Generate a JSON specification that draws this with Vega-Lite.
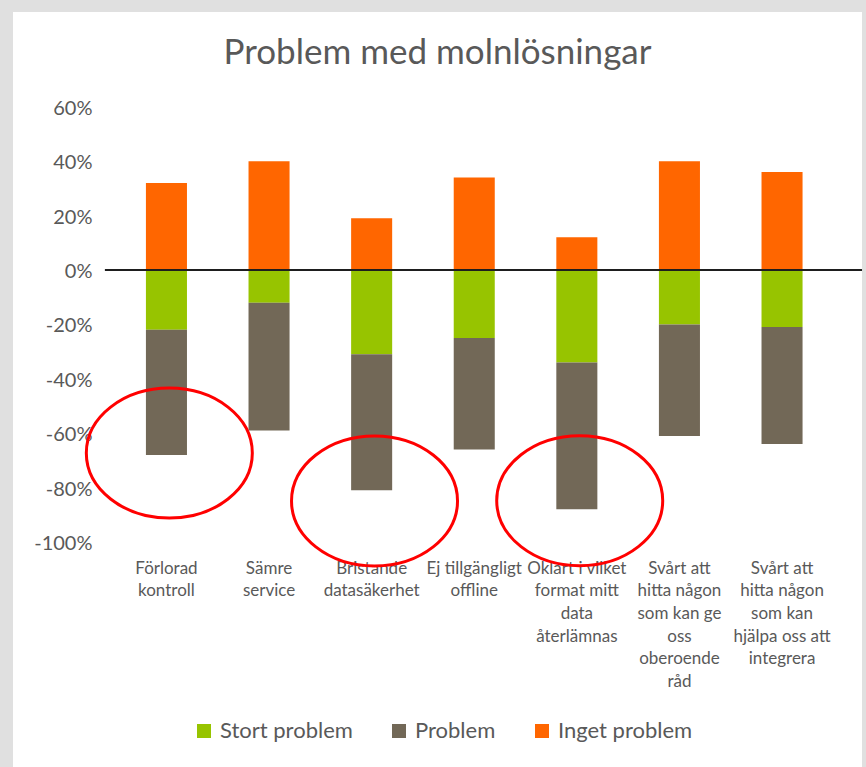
{
  "$schema": "https://vega.github.io/schema/vega-lite/v6.json",
  "autosize": {"type": "none"},
  "width": 849,
  "height": 755,
  "padding": {"left": 13, "top": 12, "right": 4, "bottom": 0},
  "background": "#E0E0E0",
  "title": {
    "text": "Problem med molnlösningar",
    "font": "Lato",
    "fontSize": 35,
    "fontWeight": "normal",
    "color": "#595959",
    "anchor": "middle",
    "baseline": "alphabetic",
    "offset": -87
  },
  "datasets": {
    "responses": [
      {"category": "Förlorad kontroll", "series": "Stort problem", "value": -0.22},
      {"category": "Förlorad kontroll", "series": "Problem", "value": -0.46},
      {"category": "Förlorad kontroll", "series": "Inget problem", "value": 0.32},
      {"category": "Sämre service", "series": "Stort problem", "value": -0.12},
      {"category": "Sämre service", "series": "Problem", "value": -0.47},
      {"category": "Sämre service", "series": "Inget problem", "value": 0.40},
      {"category": "Bristande datasäkerhet", "series": "Stort problem", "value": -0.31},
      {"category": "Bristande datasäkerhet", "series": "Problem", "value": -0.50},
      {"category": "Bristande datasäkerhet", "series": "Inget problem", "value": 0.19},
      {"category": "Ej tillgängligt offline", "series": "Stort problem", "value": -0.25},
      {"category": "Ej tillgängligt offline", "series": "Problem", "value": -0.41},
      {"category": "Ej tillgängligt offline", "series": "Inget problem", "value": 0.34},
      {"category": "Oklart i vilket format mitt data återlämnas", "series": "Stort problem", "value": -0.34},
      {"category": "Oklart i vilket format mitt data återlämnas", "series": "Problem", "value": -0.54},
      {"category": "Oklart i vilket format mitt data återlämnas", "series": "Inget problem", "value": 0.12},
      {"category": "Svårt att hitta någon som kan ge oss oberoende råd", "series": "Stort problem", "value": -0.20},
      {"category": "Svårt att hitta någon som kan ge oss oberoende råd", "series": "Problem", "value": -0.41},
      {"category": "Svårt att hitta någon som kan ge oss oberoende råd", "series": "Inget problem", "value": 0.40},
      {"category": "Svårt att hitta någon som kan hjälpa oss att integrera", "series": "Stort problem", "value": -0.21},
      {"category": "Svårt att hitta någon som kan hjälpa oss att integrera", "series": "Problem", "value": -0.43},
      {"category": "Svårt att hitta någon som kan hjälpa oss att integrera", "series": "Inget problem", "value": 0.36}
    ],
    "highlights": [
      {"category": "Förlorad kontroll", "value": -0.673},
      {"category": "Bristande datasäkerhet", "value": -0.849},
      {"category": "Oklart i vilket format mitt data återlämnas", "value": -0.848}
    ]
  },
  "layer": [
    {
      "data": {"name": "responses"},
      "mark": {"type": "bar"},
      "encoding": {
        "x": {
          "field": "category",
          "type": "nominal",
          "scale": {
            "domain": ["Förlorad kontroll", "Sämre service", "Bristande datasäkerhet", "Ej tillgängligt offline", "Oklart i vilket format mitt data återlämnas", "Svårt att hitta någon som kan ge oss oberoende råd", "Svårt att hitta någon som kan hjälpa oss att integrera"],
            "paddingInner": 0.6,
            "paddingOuter": 0.9375,
            "align": 0.691,
            "round": false
          },
          "axis": {
            "title": null,
            "domain": false,
            "ticks": false,
            "tickSize": 0,
            "grid": false,
            "labelAngle": 0,
            "labelFont": "Lato",
            "labelFontSize": 17,
            "labelColor": "#595959",
            "labelLineHeight": 22.7,
            "labelPadding": 17,
            "labelBaseline": "top",
            "labelLimit": 300,
            "labelOverlap": false,
            "labelBound": false,
            "offset": -224,
            "labelExpr": "datum.value == 'Förlorad kontroll' ? ['Förlorad', 'kontroll'] : datum.value == 'Sämre service' ? ['Sämre', 'service'] : datum.value == 'Bristande datasäkerhet' ? ['Bristande', 'datasäkerhet'] : datum.value == 'Ej tillgängligt offline' ? ['Ej tillgängligt', 'offline'] : datum.value == 'Oklart i vilket format mitt data återlämnas' ? ['Oklart i vilket', 'format mitt', 'data', 'återlämnas'] : datum.value == 'Svårt att hitta någon som kan ge oss oberoende råd' ? ['Svårt att', 'hitta någon', 'som kan ge', 'oss', 'oberoende', 'råd'] : ['Svårt att', 'hitta någon', 'som kan', 'hjälpa oss att', 'integrera']"
          }
        },
        "y": {
          "field": "value",
          "type": "quantitative",
          "stack": "zero",
          "scale": {"domain": [-1.8272, 0.9485], "nice": false, "zero": false},
          "axis": {
            "title": null,
            "values": [-1, -0.8, -0.6, -0.4, -0.2, 0, 0.2, 0.4, 0.6],
            "labelExpr": "round(datum.value * 100) + '%'",
            "domain": false,
            "ticks": false,
            "tickSize": 0,
            "grid": false,
            "labelFont": "Lato",
            "labelFontSize": 20,
            "labelColor": "#595959",
            "labelPadding": 13,
            "labelOffset": 1.5,
            "offset": -92
          }
        },
        "color": {
          "field": "series",
          "type": "nominal",
          "sort": ["Stort problem", "Problem", "Inget problem"],
          "scale": {
            "domain": ["Stort problem", "Problem", "Inget problem"],
            "range": ["#97C400", "#726857", "#FF6600"]
          },
          "legend": {
            "title": null,
            "orient": "none",
            "legendX": 180,
            "legendY": 708,
            "direction": "horizontal",
            "symbolType": "square",
            "symbolSize": 196,
            "symbolStrokeWidth": 0,
            "symbolOpacity": 1,
            "labelFont": "Lato",
            "labelFontSize": 22,
            "labelColor": "#595959",
            "labelOffset": 5,
            "labelLimit": 300,
            "columnPadding": 35
          }
        }
      }
    },
    {
      "data": {"values": [{}]},
      "mark": {"type": "rule", "color": "#1e1e1e", "strokeWidth": 2},
      "encoding": {
        "y": {"datum": 0, "type": "quantitative"},
        "x": {"datum": "Förlorad kontroll", "type": "nominal", "bandPosition": -1},
        "x2": {"datum": "Svårt att hitta någon som kan hjälpa oss att integrera", "bandPosition": 2.449}
      }
    },
    {
      "data": {"name": "highlights"},
      "mark": {
        "type": "point",
        "shape": "M -1 0 C -1 -0.4324 -0.5523 -0.783 0 -0.783 C 0.5523 -0.783 1 -0.4324 1 0 C 1 0.4324 0.5523 0.783 0 0.783 C -0.5523 0.783 -1 0.4324 -1 0 Z",
        "size": 27556,
        "filled": false,
        "stroke": "#FF0000",
        "strokeWidth": 3,
        "opacity": 1
      },
      "encoding": {
        "x": {"field": "category", "type": "nominal", "bandPosition": 0.57},
        "y": {"field": "value", "type": "quantitative"}
      }
    }
  ],
  "config": {
    "view": {"fill": "white", "stroke": null},
    "font": "Lato"
  }
}
